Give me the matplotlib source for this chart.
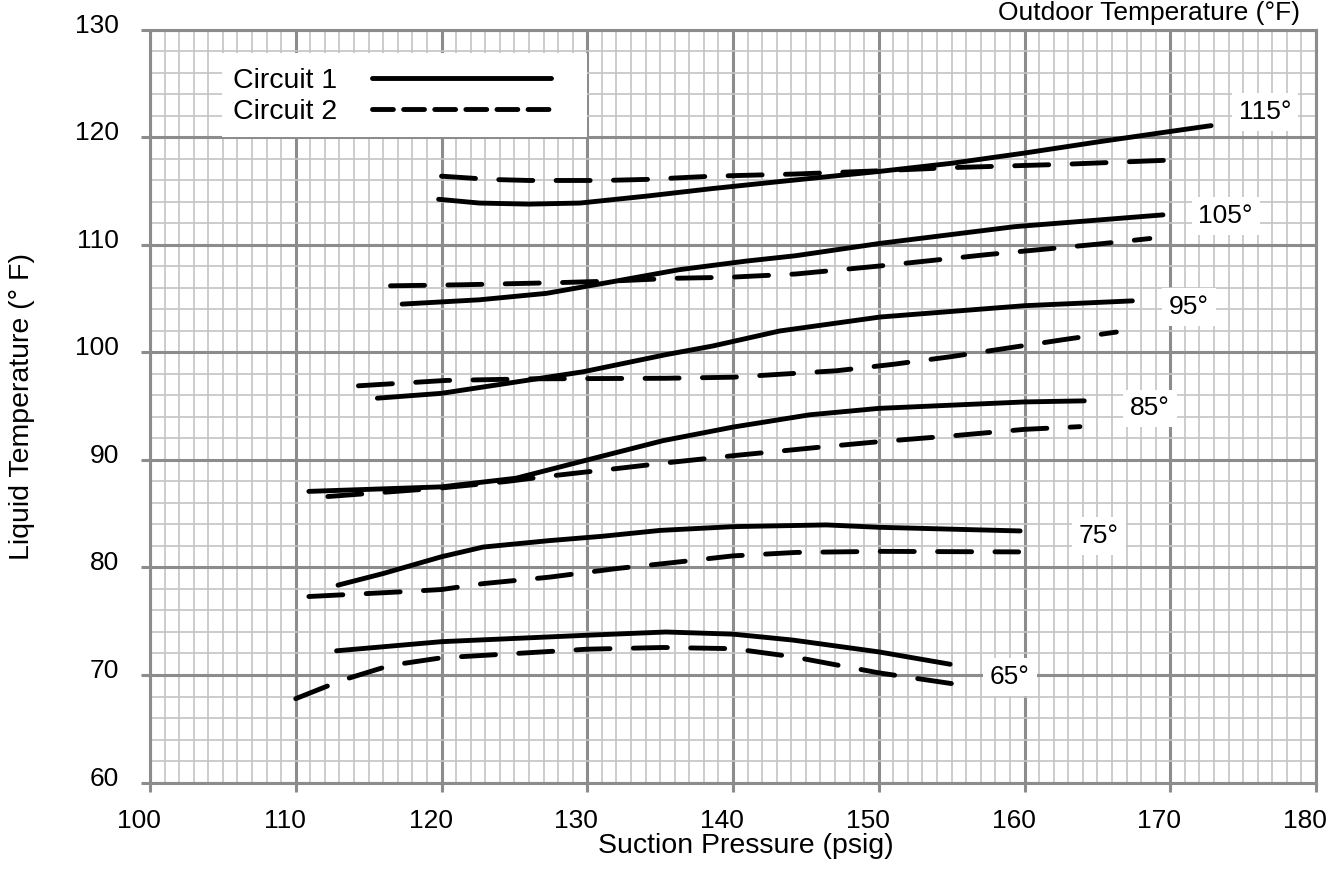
import matplotlib
matplotlib.use("Agg")
import matplotlib.pyplot as plt
import matplotlib.transforms as mtransforms
from matplotlib.lines import Line2D
from matplotlib.patches import Rectangle
from matplotlib.ticker import MultipleLocator

plt.rcParams['font.family'] = ['Liberation Sans', 'DejaVu Sans']

# Circuit 1 (solid) and Circuit 2 (dashed) curves
c1_115_x = [119.8, 122.6, 126.0, 129.5, 134.1, 138.6, 143.2, 150.1, 155.0, 160.0, 165.1, 169.7, 172.8]
c1_115_y = [114.25, 113.9, 113.8, 113.9, 114.55, 115.25, 115.9, 116.85, 117.6, 118.55, 119.6, 120.5, 121.1]
c2_115_x = [120.0, 123.3, 126.0, 131.1, 134.1, 138.6, 144.3, 150.0, 155.1, 162.6, 170.1]
c2_115_y = [116.4, 116.1, 116.0, 116.0, 116.1, 116.4, 116.6, 116.9, 117.2, 117.5, 117.9]

c1_105_x = [117.3, 122.6, 127.2, 131.8, 136.3, 140.9, 144.3, 150.1, 159.3, 169.5]
c1_105_y = [104.5, 104.9, 105.5, 106.6, 107.7, 108.5, 109.0, 110.15, 111.7, 112.8]
c2_105_x = [116.5, 121.5, 128.1, 131.8, 135.9, 139.8, 144.3, 150.1, 157.4, 164.9, 168.6]
c2_105_y = [106.2, 106.3, 106.5, 106.65, 106.9, 107.0, 107.3, 108.05, 109.1, 110.06, 110.6]

c1_95_x = [115.6, 120.0, 126.3, 129.7, 135.4, 138.6, 143.2, 150.1, 160.0, 167.4]
c1_95_y = [95.75, 96.2, 97.5, 98.2, 99.8, 100.6, 102.0, 103.3, 104.35, 104.8]
c2_95_x = [114.3, 120.3, 126.3, 135.4, 140.0, 147.1, 151.0, 154.9, 158.8, 162.7, 166.3]
c2_95_y = [96.9, 97.4, 97.55, 97.6, 97.7, 98.3, 98.9, 99.6, 100.4, 101.2, 101.9]

c1_85_x = [110.9, 120.0, 125.1, 129.7, 135.2, 140.0, 145.25, 150.0, 160.0, 164.1]
c1_85_y = [87.08, 87.5, 88.3, 89.9, 91.8, 93.06, 94.2, 94.8, 95.4, 95.5]
c2_85_x = [112.2, 120.0, 124.45, 127.4, 132.0, 135.2, 140.0, 146.4, 150.0, 155.5, 160.0, 163.8]
c2_85_y = [86.6, 87.4, 88.0, 88.5, 89.2, 89.7, 90.4, 91.25, 91.7, 92.3, 92.85, 93.1]

c1_75_x = [112.9, 116.0, 120.0, 122.85, 127.4, 131.0, 135.0, 140.0, 146.4, 150.0, 159.7]
c1_75_y = [78.36, 79.44, 81.0, 81.9, 82.5, 82.9, 83.45, 83.8, 83.96, 83.74, 83.4]
c2_75_x = [110.9, 116.7, 120.0, 122.85, 127.4, 132.0, 135.5, 140.0, 144.3, 150.0, 159.6]
c2_75_y = [77.3, 77.7, 77.95, 78.5, 79.1, 79.9, 80.4, 81.08, 81.4, 81.5, 81.45]

c1_65_x = [112.8, 120.0, 130.0, 135.4, 140.0, 144.1, 150.0, 154.9]
c1_65_y = [72.25, 73.1, 73.7, 74.0, 73.8, 73.25, 72.15, 71.0]
c2_65_x = [110.0, 113.15, 116.5, 120.0, 125.1, 130.0, 135.2, 140.0, 144.1, 150.0, 155.0]
c2_65_y = [67.8, 69.5, 70.9, 71.6, 72.0, 72.4, 72.56, 72.45, 71.7, 70.2, 69.2]

# outdoor temperature labels and where they sit
temp_labels = ['115°', '105°', '95°', '85°', '75°', '65°']
label_x = [176.5, 173.8, 171.3, 168.6, 165.1, 159.0]
label_y = [122.4, 112.7, 104.25, 94.8, 82.9, 69.8]

solid_curves = [(c1_115_x, c1_115_y), (c1_105_x, c1_105_y), (c1_95_x, c1_95_y),
                (c1_85_x, c1_85_y), (c1_75_x, c1_75_y), (c1_65_x, c1_65_y)]
dashed_curves = [(c2_115_x, c2_115_y), (c2_105_x, c2_105_y), (c2_95_x, c2_95_y),
                 (c2_85_x, c2_85_y), (c2_75_x, c2_75_y), (c2_65_x, c2_65_y)]

FS = 19        # tick labels and curve labels
FS_LABEL = 20.5  # axis titles and legend
LW = 3.5
GRID_MAJOR = '#8c8c8c'
GRID_MINOR = '#c4c4c4'

fig = plt.figure(figsize=(13.43, 8.71), dpi=100)
ax = fig.add_axes([0.1117, 0.1016, 0.8682, 0.8640])

for x, y in solid_curves:
    ax.plot(x, y, color='black', lw=LW, solid_capstyle='round', solid_joinstyle='round', zorder=3)
for x, y in dashed_curves:
    ax.plot(x, y, color='black', lw=LW, linestyle=(0, (7, 4.8)), dash_capstyle='round', zorder=3)

for txt, x, y in zip(temp_labels, label_x, label_y):
    ax.text(x, y, txt, ha='center', va='center', fontsize=FS, zorder=4,
            bbox=dict(facecolor='white', edgecolor='none', pad=5))

ax.text(178.9, 131.6, 'Outdoor Temperature (°F)', ha='right', va='center',
        fontsize=FS, clip_on=False)

ax.set_xlim(100, 180)
ax.set_ylim(60, 130)
ax.xaxis.set_major_locator(MultipleLocator(10))
ax.xaxis.set_minor_locator(MultipleLocator(1))
ax.yaxis.set_major_locator(MultipleLocator(10))
ax.yaxis.set_minor_locator(MultipleLocator(2))
ax.grid(which='minor', color=GRID_MINOR, lw=1.2)
ax.grid(which='major', color=GRID_MAJOR, lw=2.2)
ax.set_axisbelow(True)
for s in ax.spines.values():
    s.set_color(GRID_MAJOR)
    s.set_linewidth(2.2)
ax.tick_params(which='major', length=6.5, width=2.2, color=GRID_MAJOR, labelsize=FS)
ax.tick_params(axis='x', which='major', pad=12.5)
ax.tick_params(axis='y', which='major', pad=16)
ax.tick_params(which='minor', length=0)

# the tick labels in the original sit a little off their grid lines
y_shift = mtransforms.ScaledTranslation(0, 6.5 / 100, fig.dpi_scale_trans)
for lab in ax.get_yticklabels():
    lab.set_transform(lab.get_transform() + y_shift)
x_shift = mtransforms.ScaledTranslation(-11 / 100, 0, fig.dpi_scale_trans)
for lab in ax.get_xticklabels():
    lab.set_transform(lab.get_transform() + x_shift)

ax.set_xlabel('Suction Pressure (psig)', fontsize=FS_LABEL, va='center')
ax.xaxis.set_label_coords(0.511, -0.085)
ax.set_ylabel('Liquid Temperature (° F)', fontsize=FS_LABEL, va='center')
ax.yaxis.set_label_coords(-0.1098, 0.5)

# legend on a white panel
ax.add_patch(Rectangle((0.0617, 0.8578), 0.313, 0.1116, transform=ax.transAxes,
                       facecolor='white', edgecolor='none', zorder=2.5))
handles = [Line2D([], [], color='black', lw=LW, solid_capstyle='round'),
           Line2D([], [], color='black', lw=LW, linestyle=(0, (4.3, 2.1)), dash_capstyle='round')]
leg = ax.legend(handles, ['Circuit 1', 'Circuit 2'], loc='upper left',
                bbox_to_anchor=(0.0617, 0.964), borderaxespad=0, frameon=False,
                markerfirst=False, fontsize=FS_LABEL, handlelength=6.3, handletextpad=1.2,
                labelspacing=0.15, borderpad=0.4)
leg.set_zorder(5)

fig.savefig('out.png', dpi=100)
